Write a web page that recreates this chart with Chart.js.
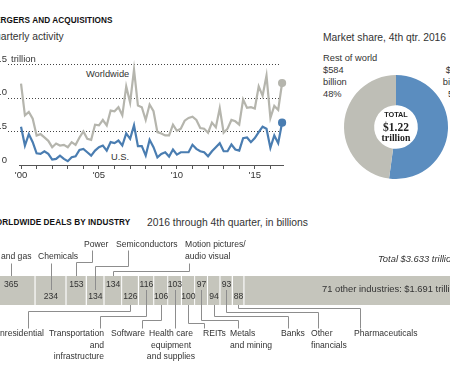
<!DOCTYPE html>
<html>
<head>
<meta charset="utf-8">
<script src="https://cdn.jsdelivr.net/npm/chart.js@4.4.1/dist/chart.umd.min.js"></script>
<style>
  html, body { margin: 0; padding: 0; background: #fff; }
  body {
    width: 450px; height: 375px; overflow: hidden; position: relative;
    font-family: "Liberation Sans", Arial, sans-serif; color: #333;
  }
  .t { position: absolute; white-space: nowrap; }
  .hed { font-weight: bold; font-size: 8.2px; color: #111; letter-spacing: 0.1px; }
  .sub { font-size: 10.3px; color: #333; }
  .lab { font-size: 9.3px; line-height: 12px; color: #333; }
  .ctr { position: absolute; width: 60px; text-align: center; font-weight: bold; color: #222; }
  canvas { position: absolute; }
</style>
</head>
<body>
<div class="t hed" style="left:-12px; top:15px; line-height:12px;">MERGERS AND ACQUISITIONS</div>
<div class="t sub" style="left:-13px; top:31px; line-height:12px;">Quarterly activity</div>
<div class="t lab" style="left:86px; top:68px;">Worldwide</div>
<div class="t lab" style="left:111px; top:151px;">U.S.</div>

<div class="t sub" style="left:323px; top:32px; line-height:12px;">Market share, 4th qtr. 2016</div>
<div class="t lab" style="left:323px; top:52px;">Rest of world<br>$584<br>billion<br>48%</div>
<div class="t lab" style="left:398px; top:64px; width:68.5px; text-align:right;">$636<br>billion<br>52%</div>

<canvas id="lineChart" width="290" height="135" style="left:0; top:50px;"></canvas>
<canvas id="donutChart" width="112" height="112" style="left:340px; top:71px;"></canvas>

<div class="ctr" style="left:366px; top:110px; font-size:7.3px; line-height:10px;">TOTAL</div>
<div class="ctr" style="left:366px; top:120px; font-size:11.5px; line-height:14px; font-family:'Liberation Serif', serif;">$1.22</div>
<div class="ctr" style="left:366px; top:132px; font-size:9.8px; line-height:12px; font-family:'Liberation Serif', serif;">trillion</div>

<div class="t hed" style="left:-12px; top:217px; line-height:12px;">WORLDWIDE DEALS BY INDUSTRY</div>
<div class="t sub" style="left:147px; top:217px; line-height:12px;">2016 through 4th quarter, in billions</div>

<canvas id="barChart" width="481" height="130" style="left:-13px; top:235px;"></canvas>

<script>
// ---- data ----
const firstYear = 2000; // series start, Q1 2000, one value per quarter
const worldwide = [
  1.21, 0.74, 0.79, 0.69, 0.44, 0.46, 0.41, 0.36, 0.265, 0.32, 0.29, 0.30,
  0.265, 0.34, 0.30, 0.41, 0.50, 0.39, 0.375, 0.60, 0.59, 0.67, 0.59, 0.81,
  0.80, 0.86, 0.74, 1.17, 0.93, 1.42, 0.885, 0.86, 0.67, 0.90, 0.80, 0.49,
  0.47, 0.44, 0.44, 0.60, 0.51, 0.54, 0.66, 0.70, 0.72, 0.67, 0.55, 0.54,
  0.48, 0.63, 0.56, 0.845, 0.48, 0.54, 0.67, 0.65, 0.60, 0.975, 0.85, 0.86,
  0.84, 1.17, 1.03, 1.33, 0.70, 0.88, 0.82, 1.22
];
const unitedStates = [
  0.57, 0.29, 0.46, 0.34, 0.175, 0.165, 0.205, 0.165, 0.08, 0.09, 0.14, 0.09,
  0.057, 0.115, 0.13, 0.225, 0.24, 0.19, 0.14, 0.215, 0.265, 0.29, 0.215, 0.34,
  0.325, 0.365, 0.29, 0.47, 0.39, 0.59, 0.28, 0.28, 0.14, 0.375, 0.265, 0.115,
  0.165, 0.19, 0.125, 0.23, 0.155, 0.19, 0.19, 0.19, 0.30, 0.24, 0.205, 0.19,
  0.13, 0.205, 0.265, 0.325, 0.205, 0.205, 0.305, 0.23, 0.215, 0.40, 0.41, 0.34,
  0.40, 0.49, 0.57, 0.54, 0.255, 0.44, 0.325, 0.63
];
const yTickValues = [0, 0.5, 1, 1.5];
const yTickLabels = ["0", "0.5", "1.0", "$1.5"];
const labeledYears = [2000, 2005, 2010, 2015];

const shareLabels = ["U.S.", "Rest of world"];
const shareValues = [636, 584];

const industries = [
  "Oil and gas", "Chemicals", "Power", "Semiconductors", "Motion pictures/audio visual",
  "Nonresidential", "Transportation and infrastructure", "Software",
  "Health care equipment and supplies", "REITs", "Metals and mining", "Banks",
  "Other financials", "Pharmaceuticals", "71 other industries"
];
const dealValues = [365, 234, 153, 134, 134, 126, 116, 106, 103, 100, 97, 94, 93, 88, 1691];
const otherLabel = "71 other industries: $1.691 trillion";
const totalLabel = "Total $3.633 trillion";

// ---- styles ----
const colors = {
  world: "#b5b5ad",
  us: "#4a7db1",
  donutUs: "#5b8dbf",
  donutRest: "#bebeb6",
  bar: "#c5c5bc",
  text: "#333",
  grid: "#444",
  leader: "#8d8d8d",
};
const FONT = '"Liberation Sans", Arial, sans-serif';

// ---- line chart ----
const quarterX = worldwide.map((_, i) => firstYear + i / 4);
const lastIdx = worldwide.length - 1;

const yGuides = {
  id: "yGuides",
  beforeDatasetsDraw(chart) {
    const { ctx } = chart;
    const y = chart.scales.y;
    ctx.save();
    ctx.strokeStyle = colors.grid;
    ctx.lineWidth = 1;
    ctx.setLineDash([1, 2]);
    yTickValues.forEach((v) => {
      if (v === 0) return;
      const py = Math.round(y.getPixelForValue(v)) + 0.5;
      ctx.beginPath();
      ctx.moveTo(8, py);
      ctx.lineTo(280, py);
      ctx.stroke();
    });
    ctx.setLineDash([]);
    ctx.fillStyle = colors.text;
    ctx.font = "9.5px " + FONT;
    ctx.textBaseline = "alphabetic";
    yTickValues.forEach((v, i) => {
      const py = y.getPixelForValue(v) - 2.5;
      ctx.textAlign = "right";
      ctx.fillText(yTickLabels[i], 7, py);
      if (i === yTickValues.length - 1) {
        ctx.textAlign = "left";
        ctx.fillText("trillion", 11, py);
      }
    });
    ctx.restore();
  },
};

new Chart(document.getElementById("lineChart"), {
  type: "line",
  data: {
    datasets: [
      {
        label: "Worldwide",
        data: worldwide.map((v, i) => ({ x: quarterX[i], y: v })),
        borderColor: colors.world,
        backgroundColor: colors.world,
        borderWidth: 2.2,
        pointRadius: (c) => (c.dataIndex === lastIdx ? 3 : 0),
        tension: 0,
        clip: false,
      },
      {
        label: "U.S.",
        data: unitedStates.map((v, i) => ({ x: quarterX[i], y: v })),
        borderColor: colors.us,
        backgroundColor: colors.us,
        borderWidth: 2.2,
        pointRadius: (c) => (c.dataIndex === lastIdx ? 3 : 0),
        tension: 0,
        clip: false,
      },
    ],
  },
  options: {
    responsive: false,
    animation: false,
    layout: { padding: { left: 19, right: 6, top: 7.5, bottom: 0 } },
    plugins: { legend: { display: false }, tooltip: { enabled: false } },
    scales: {
      x: {
        type: "linear",
        min: 1999.87,
        max: 2016.86,
        afterFit(scale) { scale.height = 20; },
        border: { display: true, color: "#555", width: 1 },
        grid: { drawOnChartArea: false, drawTicks: true, tickLength: 4, color: "#555" },
        ticks: {
          stepSize: 1,
          includeBounds: false,
          autoSkip: false,
          maxRotation: 0,
          padding: 1,
          color: colors.text,
          font: { size: 9.5, family: FONT },
          callback(v) {
            return labeledYears.includes(v) ? "'" + String(v).slice(2) : "";
          },
        },
      },
      y: { display: false, min: 0, max: 1.6 },
    },
  },
  plugins: [yGuides],
});

// ---- donut ----
new Chart(document.getElementById("donutChart"), {
  type: "doughnut",
  data: {
    labels: shareLabels,
    datasets: [{
      data: shareValues,
      backgroundColor: [colors.donutUs, colors.donutRest],
      borderWidth: 0,
      hoverOffset: 0,
    }],
  },
  options: {
    responsive: false,
    animation: false,
    cutout: "42%",
    layout: { padding: 4 },
    plugins: { legend: { display: false }, tooltip: { enabled: false } },
  },
});

// ---- industry bar ----
const BAR_LEFT = -13;
const BAR_TOP = 235;
// annotation placement for each named industry, page px
const leaders = [
  { side: "top", end: 263, lx: -12, ly: [257], align: "left", text: ["Oil and gas"] },
  { side: "top", end: 263, lx: 38, ly: [257], align: "left", text: ["Chemicals"] },
  { side: "top", elbow: 262, ex: 91.5, end: 250, lx: 84, ly: [245], align: "left", text: ["Power"] },
  { side: "top", elbow: 266, ex: 127.5, end: 250, lx: 116, ly: [245], align: "left", text: ["Semiconductors"] },
  { side: "top", elbow: 270.5, ex: 189, end: 263, lx: 185, ly: [245, 257], align: "left", text: ["Motion pictures/", "audio visual"] },
  { side: "bottom", elbow: 311, ex: 28, end: 328, lx: -11, ly: [334], align: "left", text: ["Nonresidential"] },
  { side: "bottom", elbow: 316, ex: 100, end: 328, lx: 104, ly: [334, 345.5, 357], align: "right", text: ["Transportation", "and", "infrastructure"] },
  { side: "bottom", elbow: 319.5, ex: 141.5, end: 328, lx: 111, ly: [334], align: "left", text: ["Software"] },
  { side: "bottom", end: 328, lx: 171, ly: [334, 345.5, 357], align: "center", text: ["Health care", "equipment", "and supplies"] },
  { side: "bottom", elbow: 322.5, ex: 204, end: 328, lx: 203, ly: [334], align: "left", text: ["REITs"] },
  { side: "bottom", elbow: 319.5, ex: 238, end: 328, lx: 230, ly: [334, 345.5], align: "left", text: ["Metals", "and mining"] },
  { side: "bottom", elbow: 316, ex: 287.5, end: 328, lx: 281, ly: [334], align: "left", text: ["Banks"] },
  { side: "bottom", elbow: 311.5, ex: 317.5, end: 328, lx: 311, ly: [334, 345.5], align: "left", text: ["Other", "financials"] },
  { side: "bottom", elbow: 308, ex: 360, end: 328, lx: 354, ly: [334], align: "left", text: ["Pharmaceuticals"] },
];

const px = (x) => Math.round(x - BAR_LEFT) + 0.5;
const py = (y) => Math.round(y - BAR_TOP) + 0.5;

const barNotes = {
  id: "barNotes",
  afterDatasetsDraw(chart) {
    const { ctx, chartArea: a } = chart;
    ctx.save();
    ctx.textBaseline = "middle";
    dealValues.forEach((v, i) => {
      const el = chart.getDatasetMeta(i).data[0];
      const cx = (el.x + el.base) / 2;
      const topRow = i % 2 === 0;
      ctx.fillStyle = colors.text;
      if (i === dealValues.length - 1) {
        ctx.textAlign = "left";
        ctx.font = "9.4px " + FONT;
        ctx.fillText(otherLabel, 335 - BAR_LEFT - 13, a.top + 13.5);
        ctx.font = "italic 9.4px " + FONT;
        ctx.fillText(totalLabel, 378 - BAR_LEFT, 259 - BAR_TOP);
        return;
      }
      ctx.font = "8.6px " + FONT;
      ctx.textAlign = "center";
      ctx.fillText(String(v), cx, topRow ? a.top + 8.5 : a.top + 20.5);

      const L = leaders[i];
      const x0 = Math.round(cx) + 0.5;
      ctx.strokeStyle = colors.leader;
      ctx.lineWidth = 1;
      ctx.beginPath();
      if (L.side === "top") {
        ctx.moveTo(x0, topRow ? a.top : a.top + 14);
      } else {
        ctx.moveTo(x0, topRow ? a.top + 14 : a.bottom);
      }
      if (L.elbow !== undefined) {
        ctx.lineTo(x0, py(L.elbow));
        ctx.lineTo(px(L.ex), py(L.elbow));
        ctx.lineTo(px(L.ex), py(L.end));
      } else {
        ctx.lineTo(x0, py(L.end));
      }
      ctx.stroke();

      ctx.textAlign = L.align;
      L.text.forEach((line, k) => {
        ctx.fillText(line, L.lx - BAR_LEFT, L.ly[k] - BAR_TOP);
      });
    });
    ctx.restore();
  },
};

new Chart(document.getElementById("barChart"), {
  type: "bar",
  data: {
    labels: ["2016"],
    datasets: dealValues.map((v, i) => ({
      label: industries[i],
      data: [v],
      backgroundColor: colors.bar,
      borderColor: "#fff",
      borderWidth: { left: 0, right: 1.2, top: 0, bottom: 0 },
      borderSkipped: false,
      barPercentage: 1,
      categoryPercentage: 1,
    })),
  },
  options: {
    indexAxis: "y",
    responsive: false,
    animation: false,
    layout: { padding: { left: 0, right: 0, top: 41, bottom: 60 } },
    plugins: { legend: { display: false }, tooltip: { enabled: false } },
    scales: {
      x: { display: false, stacked: true, min: 0, max: 3633 },
      y: { display: false, stacked: true },
    },
  },
  plugins: [barNotes],
});
</script>
</body>
</html>
